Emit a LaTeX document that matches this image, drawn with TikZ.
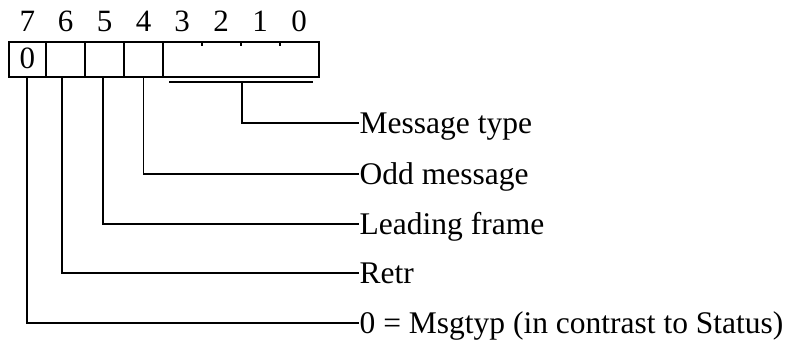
\documentclass[tikz,border=0pt]{standalone}
\usepackage{fontspec}
\setmainfont{Liberation Serif}
\begin{document}
\begin{tikzpicture}[x=1pt,y=-1pt,line width=1.4pt,
  cell/.style={draw,minimum height=35pt,inner sep=0pt,outer sep=0pt,anchor=north west},
  bitno/.style={anchor=base,inner sep=0pt,font=\fontsize{31}{36}\selectfont},
  lab/.style={anchor=base west,inner sep=0pt,font=\fontsize{31.5}{36}\selectfont},
  lead/.style={line width=1.3pt}]
\useasboundingbox (0,0) rectangle (795,341);
% register cells, bit 7 at the left
\node[cell,minimum width=37pt] (c7) at (9,42) {};
\node[cell,minimum width=39pt] (c6) at (46,42) {};
\node[cell,minimum width=39pt] (c5) at (85,42) {};
\node[cell,minimum width=39pt] (c4) at (124,42) {};
\node[cell,minimum width=156pt] (c30) at (163,42) {};
\node[anchor=base,inner sep=0pt,font=\fontsize{31}{36}\selectfont] (v7) at (27.5,68) {0};
% short ticks between bits 3..0
\coordinate (t1) at (202,42);
\coordinate (t2) at (241,42);
\coordinate (t3) at (280,42);
\foreach \t in {t1,t2,t3} \draw[lead] (\t) -- ++(0,4);
% bit numbers
\node[bitno] (b7) at (27.5,31) {7};
\node[bitno] (b6) at (65.5,31) {6};
\node[bitno] (b5) at (104.5,31) {5};
\node[bitno] (b4) at (143.5,31) {4};
\node[bitno] (b3) at (182,31) {3};
\node[bitno] (b2) at (221,31) {2};
\node[bitno] (b1) at (260,31) {1};
\node[bitno] (b0) at (299,31) {0};
% field labels
\node[lab] (lt) at (359,133) {Message type};
\node[lab] (lo) at (359,184) {Odd message};
\node[lab] (ll) at (359,234) {Leading frame};
\node[lab] (lr) at (359,283) {Retr};
\node[lab] (lm) at (359,333) {0 = Msgtyp (in contrast to Status)};
% brace under bits 3..0
\coordinate (ua) at (169,82);
\coordinate (ub) at (313,82);
\coordinate (um) at (242,82);
\draw[lead] (ua) -- (ub);
% leader lines
\draw[lead] (um) |- ([yshift=10pt]lt.base west);
\draw[lead] (c4.south) |- ([yshift=10pt]lo.base west);
\draw[lead] ([xshift=-1.5pt]c5.south) |- ([yshift=10pt]ll.base west);
\draw[lead] ([xshift=-3.5pt]c6.south) |- ([yshift=10pt]lr.base west);
\draw[lead] ([xshift=-0.5pt]c7.south) |- ([yshift=10pt]lm.base west);
\end{tikzpicture}
\end{document}
